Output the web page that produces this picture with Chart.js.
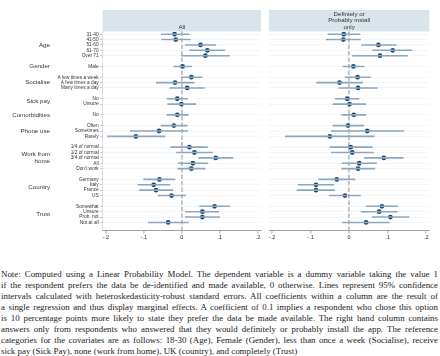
<!DOCTYPE html>
<html lang="en">
<head>
<meta charset="UTF-8" />
<title>LPM coefficients</title>
<script src="https://cdn.jsdelivr.net/npm/chart.js"></script>
<style>
  body {
    margin: 0;
    background: #fff;
    width: 440px;
    height: 356px;
    overflow: hidden;
    position: relative;
    font-family: "Liberation Sans", Arial, sans-serif;
  }
  #left { position: absolute; left: 0; top: 0; }
  #right { position: absolute; left: 265px; top: 0; }
  #note {
    position: absolute;
    left: 1px;
    top: 269px;
    width: 437px;
    font-family: "Liberation Serif", "Times New Roman", serif;
    font-size: 8.9px;
    line-height: 11px;
    color: #222;
  }
  #note div { white-space: nowrap; text-align: justify; text-align-last: justify; }
  #note div.last { text-align-last: left; }
</style>
</head>
<body>
<canvas id="left" width="265" height="245"></canvas>
<canvas id="right" width="175" height="245"></canvas>

<div id="note">
  <div>Note: Computed using a Linear Probability Model. The dependent variable is a dummy variable taking the value 1</div>
  <div>if the respondent prefers the data be de-identified and made available, 0 otherwise. Lines represent 95% confidence</div>
  <div>intervals calculated with heteroskedasticity-robust standard errors. All coefficients within a column are the result of</div>
  <div>a single regression and thus display marginal effects. A coefficient of 0.1 implies a respondent who chose this option</div>
  <div>is 10 percentage points more likely to state they prefer the data be made available. The right hand column contains</div>
  <div>answers only from respondents who answered that they would definitely or probably install the app. The reference</div>
  <div>categories for the covariates are as follows: 18-30 (Age), Female (Gender), less than once a week (Socialise), receive</div>
  <div class="last">sick pay (Sick Pay), none (work from home), UK (country), and completely (Trust)</div>
</div>

<script>
  // groups and their rows (one empty slot between groups)
  const groups = ['Age', 'Gender', 'Socialise', 'Sick pay', 'Comorbidities', 'Phone use', 'Work from home', 'Country', 'Trust'];
  const groupSizes = [5, 1, 3, 2, 1, 3, 5, 4, 4];
  const categories = [
    '31-40', '41-50', '51-60', '61-70', 'Over 71',
    'Male',
    'A few times a week', 'A few times a day', 'Many times a day',
    'No', 'Unsure',
    'No',
    'Often', 'Sometimes', 'Rarely',
    '1/4 of normal', '1/2 of normal', '3/4 of normal', 'All', "Don't work",
    'Germany', 'Italy', 'France', 'US',
    'Somewhat', 'Unsure', 'Prob. not', 'Not at all'
  ];

  // panel 1: All
  const allCoef = [-0.019, -0.016, 0.049, 0.067, 0.062, 0.002, 0.025, -0.018, 0.014, -0.012, -0.001, -0.012,
    -0.021, -0.060, -0.121, 0.020, 0.033, 0.089, 0.029, 0.025, -0.059, -0.074, -0.068, -0.027, 0.086, 0.054, 0.054, -0.036];
  const allLow = [-0.055, -0.054, 0.008, 0.020, -0.002, -0.022, -0.003, -0.068, -0.033, -0.040, -0.038, -0.040,
    -0.056, -0.136, -0.196, -0.030, -0.015, 0.043, -0.010, -0.012, -0.101, -0.116, -0.112, -0.063, 0.046, 0.009, 0.008, -0.089];
  const allHigh = [0.020, 0.023, 0.090, 0.113, 0.126, 0.027, 0.054, 0.033, 0.060, 0.016, 0.038, 0.018,
    0.015, 0.016, -0.044, 0.068, 0.082, 0.135, 0.069, 0.062, -0.017, -0.030, -0.023, 0.011, 0.127, 0.098, 0.100, 0.018];

  // panel 2: definitely or probably install only
  const instCoef = [-0.014, -0.015, 0.076, 0.113, 0.080, 0.011, 0.022, -0.025, 0.023, -0.005, 0.001, 0.012,
    -0.003, 0.047, -0.050, 0.004, 0.008, 0.090, 0.026, 0.023, -0.032, -0.086, -0.086, -0.011, 0.085, 0.078, 0.107, 0.044];
  const instLow = [-0.056, -0.060, 0.031, 0.060, 0.008, -0.017, -0.011, -0.085, -0.028, -0.037, -0.043, -0.020,
    -0.043, -0.048, -0.167, -0.051, -0.047, 0.039, -0.019, -0.020, -0.080, -0.133, -0.136, -0.053, 0.044, 0.030, 0.059, -0.018];
  const instHigh = [0.029, 0.030, 0.123, 0.164, 0.152, 0.040, 0.056, 0.036, 0.074, 0.026, 0.044, 0.044,
    0.039, 0.143, 0.066, 0.061, 0.064, 0.141, 0.072, 0.067, 0.016, -0.039, -0.037, 0.030, 0.127, 0.126, 0.156, 0.105];

  const xTickValues = [-0.2, -0.1, 0, 0.1, 0.2];
  const xTickLabels = ['-.2', '-.1', '0', '.1', '.2'];

  // row slot for every category
  const slots = [];
  const groupSlots = [];
  let s = 0;
  groupSizes.forEach((n, g) => {
    groupSlots.push([s, s + n - 1]);
    for (let k = 0; k < n; k++) slots.push(s++);
    s++;
  });
  const nSlots = s - 1;

  Chart.defaults.font.family = '"Liberation Sans", Arial, sans-serif';
  Chart.defaults.color = '#333';

  const navy = '#1a476f';
  const ciColor = '#8aa6c1';
  const stripColor = '#d9e5eb';

  function ciData(lo, hi) {
    const out = [];
    lo.forEach((v, i) => {
      out.push({ x: v, y: slots[i] }, { x: hi[i], y: slots[i] }, { x: null, y: null });
    });
    return out;
  }

  const stripPlugin = {
    id: 'strip',
    beforeDraw(chart, args, opts) {
      const { ctx, chartArea } = chart;
      ctx.save();
      ctx.fillStyle = stripColor;
      ctx.fillRect(chartArea.left, 10, chartArea.right - chartArea.left, chartArea.top - 10);
      ctx.fillStyle = '#333';
      ctx.font = '6.2px "Liberation Sans", Arial, sans-serif';
      ctx.textAlign = 'center';
      ctx.textBaseline = 'middle';
      const cx = (chartArea.left + chartArea.right) / 2;
      const lines = opts.lines;
      lines.forEach((t, i) => {
        ctx.fillText(t, cx, 27 - (lines.length - 1 - i) * 6.3);
      });
      ctx.restore();
    }
  };

  const groupPlugin = {
    id: 'groupLabels',
    afterDraw(chart) {
      const { ctx } = chart;
      const y = chart.scales.y;
      ctx.save();
      ctx.fillStyle = '#333';
      ctx.font = '6.2px "Liberation Sans", Arial, sans-serif';
      ctx.textAlign = 'right';
      ctx.textBaseline = 'middle';
      groups.forEach((g, i) => {
        const mid = y.getPixelForValue((groupSlots[i][0] + groupSlots[i][1]) / 2);
        if (g === 'Work from home') {
          ctx.fillText('Work from', 50, mid - 3.5);
          ctx.fillText('home', 50, mid + 3.5);
        } else {
          ctx.fillText(g, 50, mid);
        }
      });
      ctx.restore();
    }
  };

  function makeChart(id, coef, lo, hi, header, isLeft) {
    return new Chart(document.getElementById(id), {
      type: 'scatter',
      data: {
        datasets: [
          {
            data: ciData(lo, hi),
            showLine: true,
            spanGaps: false,
            borderColor: ciColor,
            borderWidth: 1.6,
            pointRadius: 0
          },
          {
            data: coef.map((v, i) => ({ x: v, y: slots[i] })),
            pointRadius: 2.4,
            pointBackgroundColor: navy,
            pointBorderWidth: 0
          }
        ]
      },
      options: {
        responsive: false,
        animation: false,
        layout: { padding: isLeft ? { top: 31.5, right: 0.7, left: 0, bottom: 0 } : { top: 31.5, right: 10.7, left: 0, bottom: 0 } },
        plugins: {
          legend: { display: false },
          tooltip: { enabled: false },
          strip: { lines: header }
        },
        scales: {
          x: {
            type: 'linear',
            min: -0.208,
            max: 0.208,
            afterBuildTicks: (scale) => { scale.ticks = xTickValues.map(v => ({ value: v })); },
            afterFit: (scale) => { scale.height = 14.5; },
            ticks: {
              autoSkip: false,
              maxRotation: 0,
              padding: 1,
              font: { size: 5.6 },
              callback: (v, i) => xTickLabels[i]
            },
            grid: {
              color: (c) => (c.tick && c.tick.value === 0 ? '#bfbfbf' : 'rgba(0,0,0,0)'),
              lineWidth: 1.8,
              tickColor: '#8a8a8a',
              tickLength: 3,
              tickWidth: 0.8
            },
            border: { color: '#8a8a8a', width: 0.8, dash: [4.5, 2] }
          },
          y: {
            type: 'linear',
            reverse: true,
            min: -0.5,
            max: nSlots + 0.5,
            afterBuildTicks: (scale) => { scale.ticks = slots.map(v => ({ value: v })); },
            afterFit: (scale) => { scale.width = isLeft ? 102.7 : 1.7; },
            ticks: {
              display: isLeft,
              autoSkip: false,
              padding: 1.5,
              font: { size: 4.8 },
              callback: (v, i) => categories[i]
            },
            grid: {
              color: '#dfe7ed',
              lineWidth: 0.7,
              drawTicks: isLeft,
              tickColor: '#9a9a9a',
              tickLength: 2.5,
              tickWidth: 0.6
            },
            border: { display: isLeft, color: '#cfd6db', width: 0.8, dash: [1, 1] }
          }
        }
      },
      plugins: isLeft ? [stripPlugin, groupPlugin] : [stripPlugin]
    });
  }

  makeChart('left', allCoef, allLow, allHigh, ['All'], true);
  makeChart('right', instCoef, instLow, instHigh, ['Defintely or', 'Probably install', 'only'], false);
</script>
</body>
</html>
